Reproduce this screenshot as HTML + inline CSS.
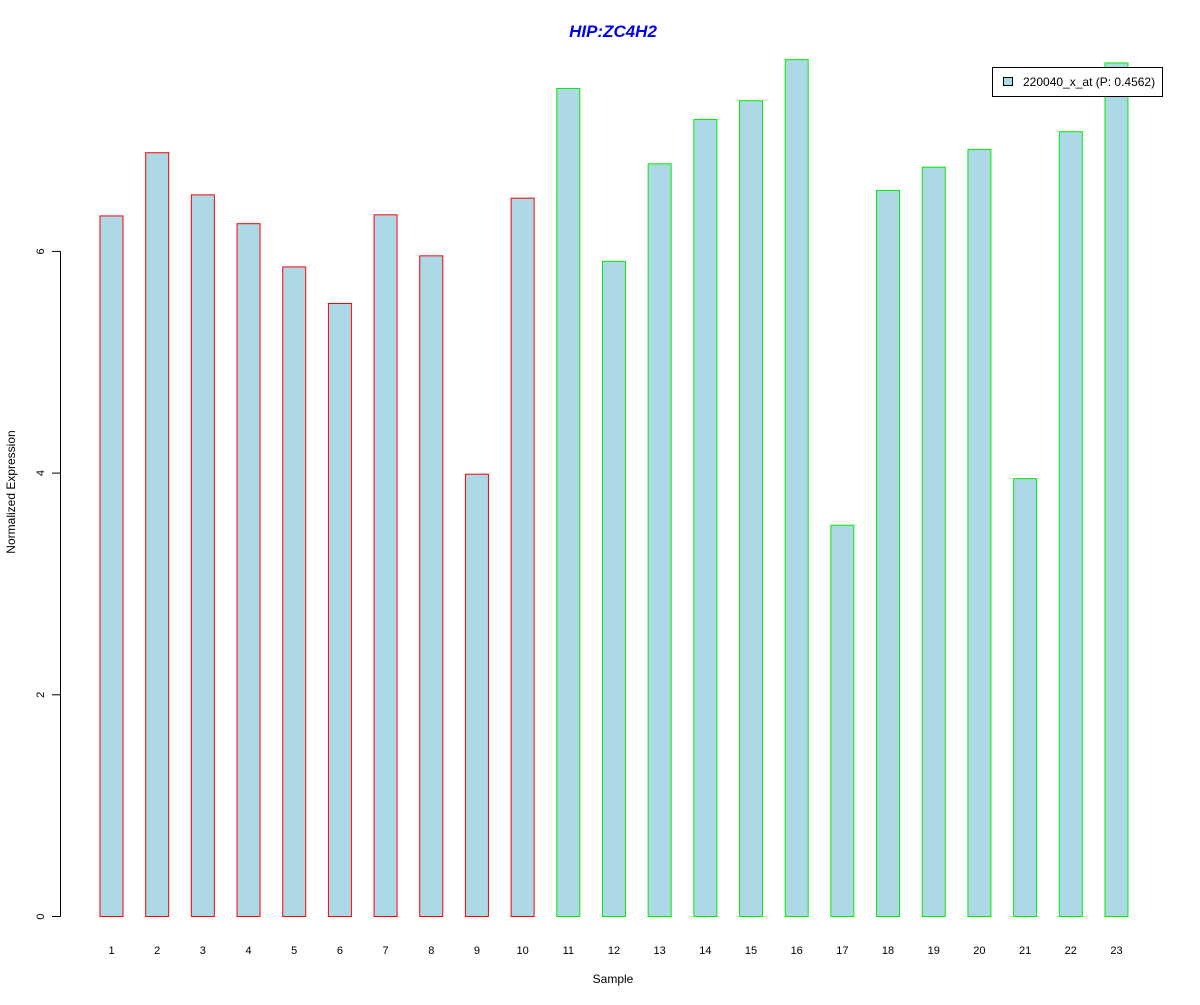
<!DOCTYPE html>
<html><head><meta charset="utf-8"><style>
body{margin:0;background:#fff}
svg text{font-family:"Liberation Sans",Arial,sans-serif}
</style></head><body>
<svg id="chart" width="1200" height="1000" xmlns="http://www.w3.org/2000/svg">
<rect width="1200" height="1000" fill="#fff"/>
<text x="613" y="37" text-anchor="middle" font-size="17" font-weight="bold" font-style="italic" fill="#0000ee">HIP:ZC4H2</text>
<text x="613" y="983" text-anchor="middle" font-size="12">Sample</text>
<text transform="translate(15,492) rotate(-90)" text-anchor="middle" font-size="12">Normalized Expression</text>
<g id="bars"></g><g id="xlabels"></g><g id="yaxis"></g>
<g>
<rect x="992.5" y="67.5" width="170" height="29" fill="#fff" stroke="#000"/>
<rect x="1003.5" y="77.5" width="9" height="8" fill="#add8e6" stroke="#000"/>
<text x="1023" y="86" font-size="12">220040_x_at (P: 0.4562)</text>
</g>
</svg>
<script>
const categories=["1","2","3","4","5","6","7","8","9","10","11","12","13","14","15","16","17","18","19","20","21","22","23"];
const values=[6.32,6.89,6.51,6.25,5.86,5.53,6.33,5.96,3.99,6.48,7.47,5.91,6.79,7.19,7.36,7.73,3.53,6.55,6.76,6.92,3.95,7.08,7.70];
const groups=["r","r","r","r","r","r","r","r","r","r","g","g","g","g","g","g","g","g","g","g","g","g","g"];
const yTicks=[0,2,4,6];
const NS="http://www.w3.org/2000/svg";
const y=v=>916.5-v*110.85;
const x=i=>111.5+i*45.68;
const bars=document.getElementById('bars');
values.forEach((v,i)=>{
 const r=document.createElementNS(NS,'rect');
 
 
 r.setAttribute('x',x(i)-11.5);r.setAttribute('y',y(v));
 r.setAttribute('width',23);r.setAttribute('height',y(0)-y(v));
 r.setAttribute('fill','#add8e6');
 r.setAttribute('stroke',groups[i]=="r"?"#ff0000":"#00ee00");
 bars.appendChild(r);
 const t=document.createElementNS(NS,'text');
 
 
 t.setAttribute('x',x(i));t.setAttribute('y',954);
 t.setAttribute('text-anchor','middle');t.setAttribute('font-size','11');
 t.textContent=categories[i];
 document.getElementById('xlabels').appendChild(t);
});
const ya=document.getElementById('yaxis');
const al=document.createElementNS(NS,'line');


al.setAttribute('x1',60.5);al.setAttribute('x2',60.5);
al.setAttribute('y1',y(yTicks[0]));al.setAttribute('y2',y(yTicks[yTicks.length-1]));
al.setAttribute('stroke','#000');ya.appendChild(al);
yTicks.forEach(v=>{
 const l=document.createElementNS(NS,'line');
 
 
 l.setAttribute('x1',52);l.setAttribute('x2',60.5);
 l.setAttribute('y1',y(v));l.setAttribute('y2',y(v));
 l.setAttribute('stroke','#000');ya.appendChild(l);
 const t=document.createElementNS(NS,'text');
 
 
 t.setAttribute('transform','translate(44,'+y(v)+') rotate(-90)');
 t.setAttribute('text-anchor','middle');t.setAttribute('font-size','11');
 t.textContent=v;ya.appendChild(t);
});
</script>
</body></html>
